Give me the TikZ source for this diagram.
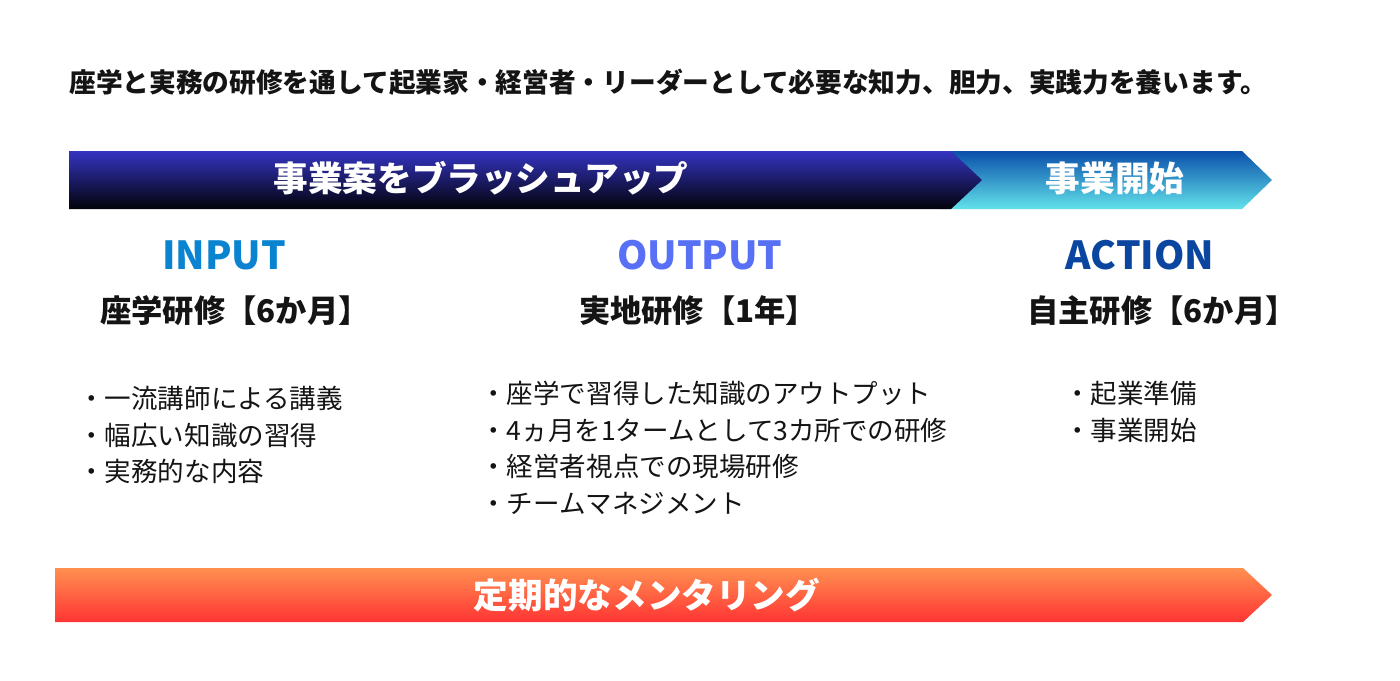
\documentclass[tikz,border=0pt]{standalone}
\usepackage{fontspec}
\setmainfont{Noto Sans CJK JP}
\definecolor{darktop}{HTML}{3434C2}
\definecolor{darkbot}{HTML}{02020A}
\definecolor{bluetop}{HTML}{0A4FAA}
\definecolor{bluebot}{HTML}{62E2EA}
\definecolor{orgtop}{HTML}{FF9050}
\definecolor{orgbot}{HTML}{FF3434}
\definecolor{incol}{HTML}{0A84D0}
\definecolor{outcol}{HTML}{5870F5}
\definecolor{actcol}{HTML}{0A46A0}
\definecolor{txt}{HTML}{141414}
\tikzset{
  banner/.style={text=white,font=\fontsize{19.7pt}{22pt}\selectfont\bfseries,inner sep=0pt},
  phase/.style={font=\fontsize{22pt}{26pt}\selectfont\bfseries,inner sep=0pt},
  period/.style={text=txt,font=\fontsize{17.8pt}{20pt}\selectfont\bfseries,inner sep=0pt},
  items/.style={text=txt,font=\fontsize{15.1pt}{20.8pt}\selectfont,inner sep=0pt,anchor=north west,align=left},
  lead/.style={text=txt,font=\fontsize{15.2pt}{18pt}\selectfont\bfseries,inner sep=0pt,anchor=west}
}
\begin{document}
\begin{tikzpicture}[x=0.02cm,y=-0.02cm]
\useasboundingbox[fill=white] (0,0) rectangle (1400,680);
% lead text
\node[lead] (lead) at (69,82) {座学と実務の研修を通して起業家・経営者・リーダーとして必要な知力、胆力、実践力を養います。};
% top banners
\shade[top color=bluetop,bottom color=bluebot] (940,151) -- (1242,151) -- (1272,180) -- (1242,209) -- (940,209) -- cycle;
\shade[top color=darktop,bottom color=darkbot] (69,151) -- (951,151) -- (982,180) -- (951,209) -- (69,209) -- cycle;
\node[banner] (brush) at (481,178) {事業案をブラッシュアップ};
\node[banner] (start) at (1115,178) {事業開始};
% phases
\node[phase,text=incol] (input) at (224,255) {INPUT};
\node[phase,text=outcol] (output) at (700,255) {OUTPUT};
\node[phase,text=actcol] (action) at (1140,255) {ACTION};
\node[period] (p1) at (235,311) {座学研修【6か月】};
\node[period] (p2) at (698,311) {実地研修【1年】};
\node[period] (p3) at (1162,311) {自主研修【6か月】};
% items
\node[items] (i1) at (78,386) {・一流講師による講義\\・幅広い知識の習得\\・実務的な内容};
\node[items] (i2) at (480,381) {・座学で習得した知識のアウトプット\\・4ヵ月を1タームとして3カ所での研修\\・経営者視点での現場研修\\・チームマネジメント};
\node[items] (i3) at (1064,381) {・起業準備\\・事業開始};
% bottom banner
\shade[top color=orgtop,bottom color=orgbot] (55,568) -- (1243,568) -- (1272,595) -- (1243,622) -- (55,622) -- cycle;
\node[banner] (mentor) at (647,595) {定期的なメンタリング};
\end{tikzpicture}
\end{document}
